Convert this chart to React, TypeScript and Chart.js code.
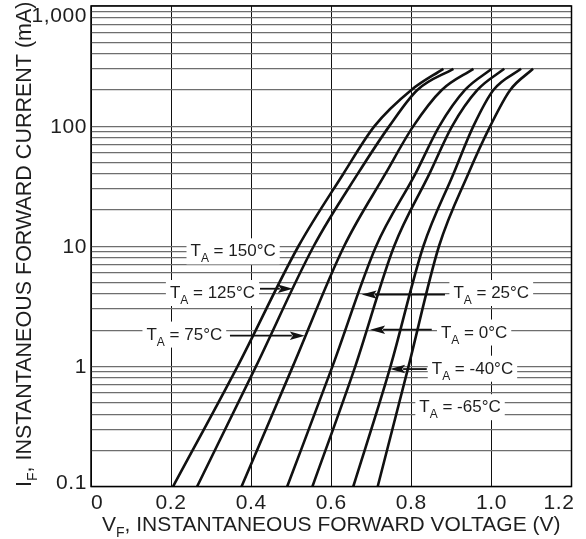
import React, { useEffect, useRef } from "react";
import { Chart, registerables } from "chart.js";

Chart.register(...registerables);

// ---------------- data ----------------
const currentsMA = [0.1, 1, 10, 40, 100, 200, 300];
const vf150 = [0.205, 0.366, 0.518, 0.63, 0.708, 0.8, 0.88];
const vf125 = [0.265, 0.412, 0.556, 0.666, 0.745, 0.815, 0.905];
const vf75 = [0.376, 0.504, 0.632, 0.735, 0.805, 0.876, 0.955];
const vf25 = [0.49, 0.603, 0.712, 0.81, 0.87, 0.934, 1.001];
const vf0 = [0.553, 0.66, 0.757, 0.845, 0.902, 0.965, 1.032];
const vfM40 = [0.655, 0.748, 0.83, 0.905, 0.955, 1.005, 1.074];
const vfM65 = [0.716, 0.793, 0.869, 0.942, 0.997, 1.047, 1.104];
const temperatures = ["150", "125", "75", "25", "0", "-40", "-65"];
const seriesVf = [vf150, vf125, vf75, vf25, vf0, vfM40, vfM65];

const xTickValues = [0, 0.2, 0.4, 0.6, 0.8, 1.0, 1.2];
const xTickLabels = ["0", "0.2", "0.4", "0.6", "0.8", "1.0", "1.2"];
const yTickValues = [0.1, 1, 10, 100, 1000];
const yTickLabels = ["0.1", "1", "10", "100", "1,000"];
const yMinorSteps = [1, 2, 3, 4, 5, 6, 7, 8, 9];

// annotation anchors (data coordinates: volts, mA)
const labelVolts = [0.2485, 0.197, 0.1385, 0.905, 0.874, 0.851, 0.82];
const labelCurrents = [9.25, 4.16, 1.875, 4.16, 1.95, 0.975, 0.466];
const arrowFromVolts = [null, 0.422, 0.347, 0.884, 0.851, 0.8385, null];
const arrowToVolts = [null, 0.504, 0.534, 0.676, 0.697, 0.747, null];
const arrowCurrents = [null, 4.43, 1.8, 3.96, 2.02, 0.95, null];

const FONT = "'Liberation Sans', Arial, Helvetica, sans-serif";
const INK = "#1e1e1e";

type Run = { t: string; size: number; dy: number };

function runsWidth(ctx: CanvasRenderingContext2D, runs: Run[]) {
  let w = 0;
  for (const r of runs) {
    ctx.font = `${r.size}px ${FONT}`;
    w += ctx.measureText(r.t).width;
  }
  return w;
}

function drawRuns(ctx: CanvasRenderingContext2D, runs: Run[], x: number, y: number) {
  let cx = x;
  for (const r of runs) {
    ctx.font = `${r.size}px ${FONT}`;
    ctx.fillText(r.t, cx, y + r.dy);
    cx += ctx.measureText(r.t).width;
  }
}

function labelRuns(t: string): Run[] {
  return [
    { t: "T", size: 17, dy: 0 },
    { t: "A", size: 12, dy: 6 },
    { t: ` = ${t}\u00B0C`, size: 17, dy: 0 },
  ];
}

const annotPlugin = {
  id: "annot",
  beforeDatasetsDraw(chart: any) {
    const { ctx, scales } = chart;
    const x = scales.x;
    const y = scales.y;
    ctx.save();
    ctx.fillStyle = "#ffffff";
    temperatures.forEach((t, i) => {
      const lx = x.getPixelForValue(labelVolts[i]);
      const cy = y.getPixelForValue(labelCurrents[i]);
      const w = runsWidth(ctx, labelRuns(t));
      ctx.fillRect(lx - 4, cy - 12, w + 8, 26);
    });
    ctx.restore();
  },
  afterDraw(chart: any) {
    const { ctx, chartArea: ca, scales } = chart;
    const x = scales.x;
    const y = scales.y;
    ctx.save();
    // frame
    ctx.strokeStyle = "#000";
    ctx.lineWidth = 1.5;
    ctx.strokeRect(ca.left, ca.top, ca.right - ca.left, ca.bottom - ca.top);

    ctx.fillStyle = INK;
    ctx.textBaseline = "alphabetic";

    // tick labels (slightly wide face like the reference)
    const anyCtx = ctx as any;
    anyCtx.letterSpacing = "0.6px";
    ctx.font = `21px ${FONT}`;
    xTickValues.forEach((v, i) => {
      const px = x.getPixelForValue(v);
      if (i === 0) ctx.textAlign = "left";
      else if (i === xTickValues.length - 1) ctx.textAlign = "right";
      else ctx.textAlign = "center";
      const ax = i === xTickValues.length - 1 ? px + 3 : px;
      ctx.fillText(xTickLabels[i], ax, ca.bottom + 22);
    });

    ctx.textAlign = "right";
    ctx.textBaseline = "middle";
    yTickValues.forEach((v, i) => {
      let py = y.getPixelForValue(v);
      if (i === 0) py -= 4.5;
      if (i === yTickValues.length - 1) py += 9;
      ctx.fillText(yTickLabels[i], ca.left - 4, py + 1);
    });
    anyCtx.letterSpacing = "0px";

    // annotation labels
    ctx.textAlign = "left";
    ctx.textBaseline = "alphabetic";
    temperatures.forEach((t, i) => {
      const lx = x.getPixelForValue(labelVolts[i]);
      const cy = y.getPixelForValue(labelCurrents[i]);
      drawRuns(ctx, labelRuns(t), lx, cy + 6);
    });

    // arrows
    ctx.strokeStyle = "#111";
    ctx.fillStyle = "#111";
    ctx.lineWidth = 1.8;
    temperatures.forEach((_, i) => {
      const fv = arrowFromVolts[i];
      const tv = arrowToVolts[i];
      const ai = arrowCurrents[i];
      if (fv == null || tv == null || ai == null) return;
      const x0 = x.getPixelForValue(fv);
      const x1 = x.getPixelForValue(tv);
      const ay = y.getPixelForValue(ai);
      const dir = x1 > x0 ? 1 : -1;
      const head = 15;
      ctx.beginPath();
      ctx.moveTo(x0, ay);
      ctx.lineTo(x1 - dir * (head - 2), ay);
      ctx.stroke();
      ctx.beginPath();
      ctx.moveTo(x1, ay);
      ctx.lineTo(x1 - dir * head, ay - 4.2);
      ctx.lineTo(x1 - dir * (head - 3), ay);
      ctx.lineTo(x1 - dir * head, ay + 4.2);
      ctx.closePath();
      ctx.fill();
    });

    // axis titles
    ctx.fillStyle = INK;
    const xRuns: Run[] = [
      { t: "V", size: 21, dy: 0 },
      { t: "F", size: 14, dy: 6 },
      { t: ", INSTANTANEOUS FORWARD VOLTAGE (V)", size: 21, dy: 0 },
    ];
    const xw = runsWidth(ctx, xRuns);
    drawRuns(ctx, xRuns, (ca.left + ca.right) / 2 - xw / 2, ca.bottom + 44);

    const yRuns: Run[] = [
      { t: "I", size: 21.5, dy: 0 },
      { t: "F", size: 14, dy: 6 },
      { t: ", INSTANTANEOUS FORWARD CURRENT (mA)", size: 21.5, dy: 0 },
    ];
    const yw = runsWidth(ctx, yRuns);
    ctx.translate(31, (ca.top + ca.bottom) / 2 - 2);
    ctx.rotate(-Math.PI / 2);
    drawRuns(ctx, yRuns, -yw / 2, 0);
    ctx.restore();
  },
};

export default function App() {
  const ref = useRef<HTMLCanvasElement | null>(null);

  useEffect(() => {
    if (!ref.current) return;
    const yGrid: number[] = [];
    for (let e = -1; e < 3; e++) {
      yMinorSteps.forEach((s) => yGrid.push(s * Math.pow(10, e)));
    }
    yGrid.push(yTickValues[yTickValues.length - 1]);

    const chart = new Chart(ref.current, {
      type: "line",
      data: {
        datasets: seriesVf.map((vals, i) => ({
          label: `TA = ${temperatures[i]}\u00B0C`,
          data: vals.map((v, k) => ({ x: v, y: currentsMA[k] })),
          borderColor: "#111111",
          borderWidth: 2.6,
          pointRadius: 0,
          fill: false,
          cubicInterpolationMode: "monotone" as const,
          borderCapStyle: "butt" as const,
        })),
      },
      options: {
        responsive: false,
        animation: false,
        devicePixelRatio: 1,
        layout: { padding: { left: 91, right: 14.5, top: 6, bottom: 52.5 } },
        plugins: { legend: { display: false }, tooltip: { enabled: false } },
        scales: {
          x: {
            type: "linear",
            min: 0,
            max: 1.2,
            ticks: { display: false, stepSize: 0.2 },
            grid: { color: "#111", lineWidth: 1, drawTicks: false },
            border: { display: false },
          },
          y: {
            type: "logarithmic",
            min: 0.1,
            max: 1000,
            afterBuildTicks: (s: any) => {
              s.ticks = yGrid.map((v) => ({ value: v }));
            },
            ticks: { display: false },
            grid: { color: "#6e6e6e", lineWidth: 1.2, drawTicks: false },
            border: { display: false },
          },
        },
      },
      plugins: [annotPlugin],
    } as any);
    return () => chart.destroy();
  }, []);

  return (
    <canvas
      ref={ref}
      width={586}
      height={539}
      style={{ position: "absolute", left: 0, top: 0, width: 586, height: 539, background: "#fff" }}
    />
  );
}
